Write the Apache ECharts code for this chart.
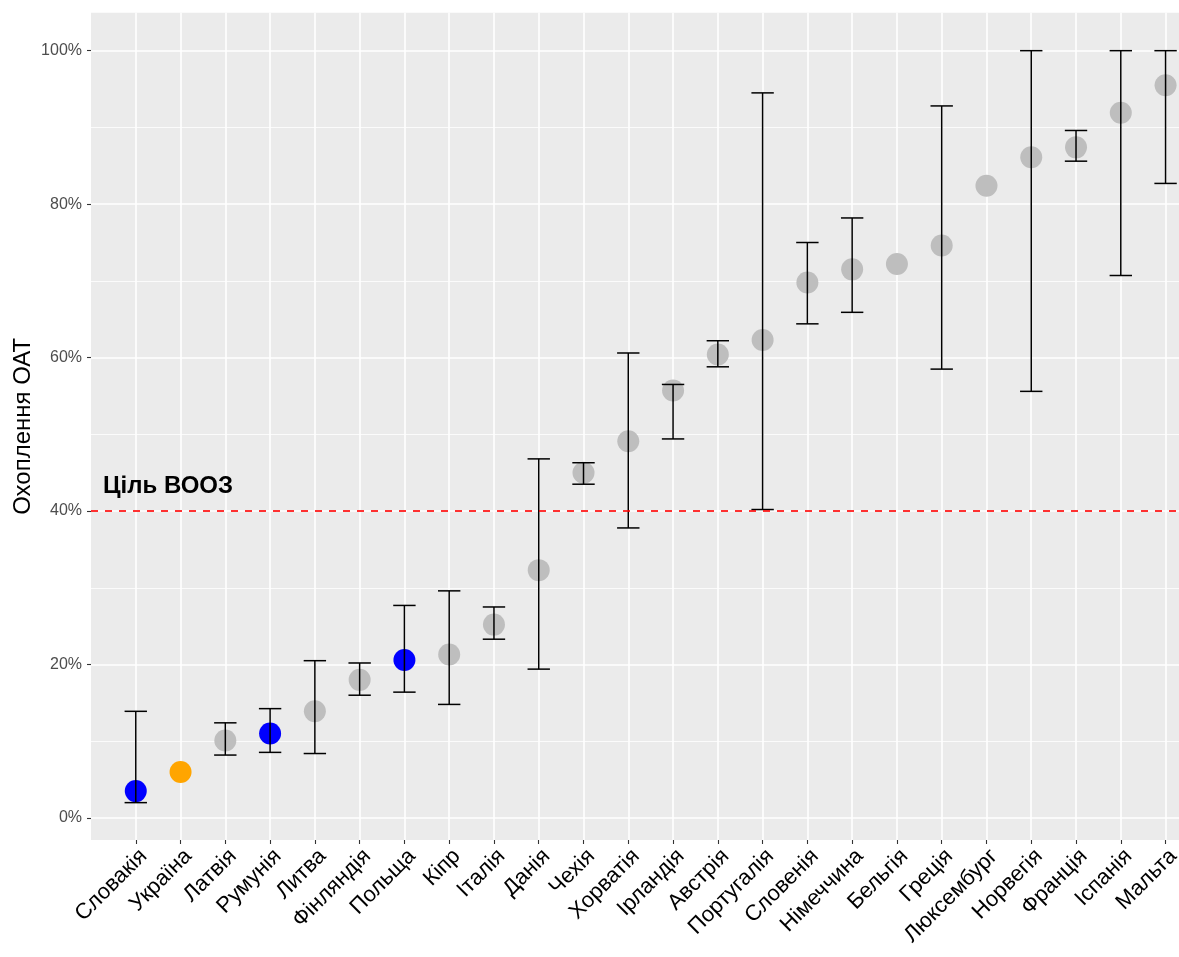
<!DOCTYPE html>
<html><head><meta charset="utf-8">
<script src="https://cdn.jsdelivr.net/npm/echarts@6/dist/echarts.min.js"></script>
<style>html,body{margin:0;padding:0;background:#fff}#c{width:1179px;height:957px}</style>
</head><body><div id="c"></div>
<script>
// ---- data ----
const countries = ['Словакія','Україна','Латвія','Румунія','Литва','Фінляндія','Польща','Кіпр','Італія','Данія','Чехія','Хорватія','Ірландія','Австрія','Португалія','Словенія','Німеччина','Бельгія','Греція','Люксембург','Норвегія','Франція','Іспанія','Мальта'];
const coverage  = [3.5, 6.0, 10.1, 11.0, 13.9, 18.0, 20.6, 21.3, 25.2, 32.3, 45.0, 49.1, 55.7, 60.4, 62.3, 69.8, 71.5, 72.2, 74.6, 82.4, 86.1, 87.4, 91.9, 95.5];
const ciLow     = [2.0, null, 8.2, 8.55, 8.4, 16.0, 16.4, 14.8, 23.3, 19.4, 43.5, 37.8, 49.4, 58.8, 40.2, 64.4, 65.9, null, 58.5, null, 55.6, 85.6, 70.7, 82.7];
const ciHigh    = [13.9, null, 12.4, 14.25, 20.5, 20.2, 27.7, 29.6, 27.5, 46.8, 46.3, 60.6, 56.5, 62.2, 94.5, 75.0, 78.2, null, 92.8, null, 100, 89.6, 100, 100];
const group     = ['focus','ukraine','other','focus','other','other','focus','other','other','other','other','other','other','other','other','other','other','other','other','other','other','other','other','other'];
const yTicks = [0, 20, 40, 60, 80, 100];
const yMinorTicks = [10, 30, 50, 70, 90];
const whoTarget = 40;
const whoLabel = 'Ціль ВООЗ';
const yTitle = 'Охоплення ОАТ';

// ---- styles ----
const groupColors = { focus: '#0000FF', ukraine: '#FFA500', other: '#BEBEBE' };
const FONT = '"Liberation Sans", Arial, sans-serif';
const idx = countries.map((_, i) => i);

const pointData = coverage.map((v, i) => ({ value: [i, v], itemStyle: { color: groupColors[group[i]] } }));
const barData = [];
coverage.forEach((v, i) => { if (ciLow[i] != null) barData.push([i, ciLow[i], ciHigh[i]]); });

const chart = echarts.init(document.getElementById('c'), null, { renderer: 'canvas' });
chart.setOption({
  backgroundColor: '#FFFFFF',
  animation: false,
  grid: { left: 91, right: 0, top: 12.7, bottom: 117, show: true, backgroundColor: '#EBEBEB', borderWidth: 0,
          containLabel: false, outerBoundsMode: 'none' },
  xAxis: {
    type: 'value', min: -1, max: 23.3,
    axisLine: { show: false, onZero: false },
    axisTick: { show: true, length: 4, lineStyle: { color: '#333333', width: 1.1 }, customValues: idx },
    axisLabel: {
      customValues: idx, rotate: 45, margin: 5, verticalAlign: 'top', align: 'right', hideOverlap: false,
      fontFamily: FONT, fontSize: 22, color: '#000000',
      formatter: v => countries[Math.round(v)] || ''
    },
    splitLine: { show: true, lineStyle: { color: '#FFFFFF', width: 1.6 } }
  },
  yAxis: [{
    type: 'value', min: -2.87, max: 104.95,
    name: yTitle, nameLocation: 'middle', nameGap: 56, nameRotate: 90, nameMoveOverlap: false,
    nameTextStyle: { fontFamily: FONT, fontSize: 24, color: '#000000' },
    axisLine: { show: false, onZero: false },
    axisTick: { show: true, length: 4, lineStyle: { color: '#333333', width: 1.1 }, customValues: yTicks },
    axisLabel: { customValues: yTicks, margin: 9, fontFamily: FONT, fontSize: 16, color: '#4D4D4D', formatter: v => v + '%' },
    splitLine: { show: true, lineStyle: { color: '#FFFFFF', width: 1.6 } }
  }, {
    type: 'value', min: -2.87, max: 104.95, position: 'left',
    axisLine: { show: false, onZero: false },
    axisTick: { show: false, customValues: yMinorTicks },
    axisLabel: { show: false, customValues: yMinorTicks },
    splitLine: { show: true, lineStyle: { color: '#FFFFFF', width: 0.8 } }
  }],
  series: [
    {
      type: 'line', data: [], z: 1, silent: true,
      markLine: {
        silent: true, symbol: 'none',
        lineStyle: { color: '#FF0000', type: [7, 7], width: 1.6 },
        label: { show: false },
        data: [{ yAxis: whoTarget }]
      },
      markPoint: {
        silent: true, symbol: 'rect', symbolSize: 1, itemStyle: { color: 'transparent' },
        label: { show: true, position: 'inside', formatter: whoLabel, fontFamily: FONT, fontSize: 24, fontWeight: 'bold', color: '#000000' },
        data: [{ coord: [0.72, 43.2] }]
      }
    },
    {
      type: 'scatter', data: pointData, symbolSize: 22, z: 2,
      itemStyle: { opacity: 1 }
    },
    {
      type: 'custom', data: barData, z: 3,
      renderItem: function (params, api) {
        const x = api.value(0), lo = api.value(1), hi = api.value(2);
        const pLo = api.coord([x, lo]), pHi = api.coord([x, hi]);
        const hw = api.size([0.5, 0])[0] / 2;
        const st = { stroke: '#000000', lineWidth: 1.5 };
        return { type: 'group', children: [
          { type: 'line', shape: { x1: pLo[0], y1: pLo[1], x2: pHi[0], y2: pHi[1] }, style: st },
          { type: 'line', shape: { x1: pLo[0] - hw, y1: pLo[1], x2: pLo[0] + hw, y2: pLo[1] }, style: st },
          { type: 'line', shape: { x1: pHi[0] - hw, y1: pHi[1], x2: pHi[0] + hw, y2: pHi[1] }, style: st }
        ]};
      }
    }
  ]
});
</script>
</body></html>
